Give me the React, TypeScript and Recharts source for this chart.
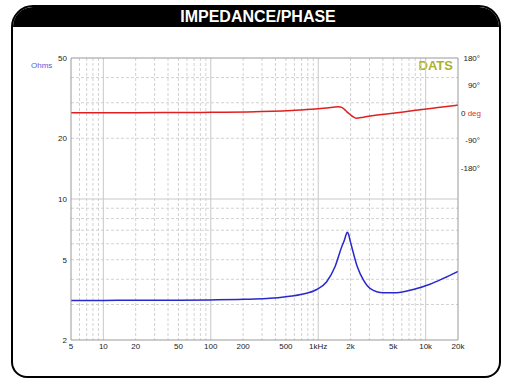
import React from 'react';
import { LineChart, Line, XAxis, YAxis, CartesianGrid, ReferenceLine } from 'recharts';

// impedance curve (Hz, ohms)
const impFreqs = [5, 10, 20, 50, 100, 200, 356, 500, 726, 968, 1199, 1433, 1655, 1760, 1815, 1866, 1920, 1976, 2050, 2312, 2630, 3034, 4035, 5370, 7670, 10960, 14590, 20000];
const impOhms = [3.14, 3.14, 3.15, 3.15, 3.16, 3.18, 3.22, 3.28, 3.38, 3.56, 3.89, 4.61, 5.8, 6.3, 6.65, 6.84, 6.66, 6.25, 5.8, 4.61, 3.97, 3.61, 3.43, 3.43, 3.56, 3.78, 4.04, 4.38];

// phase curve (Hz, degrees)
const phaseFreqs = [5, 20, 80, 300, 680, 1000, 1370, 1540, 1655, 1750, 1860, 1980, 2120, 2250, 2630, 3300, 4335, 6200, 8855, 13000, 20000];
const phaseDeg = [0.5, 1, 2, 4.5, 9.5, 13.5, 18.5, 20.5, 18.5, 12, 3, -5, -13, -17, -14, -8, -3.3, 3.5, 10.8, 18, 26];

const freqTicks = [5, 10, 20, 50, 100, 200, 500, 1000, 2000, 5000, 10000, 20000];
const ohmTicks = [2, 5, 10, 20, 50];
const phaseTicks = [-180, -90, 0, 90, 180];

const freqMinor = [6, 7, 8, 9, 20, 30, 40, 50, 60, 70, 80, 90, 200, 300, 400, 500, 600, 700, 800, 900, 2000, 3000, 4000, 5000, 6000, 7000, 8000, 9000];
const freqMajor = [10, 100, 1000, 10000];
const ohmMinor = [3, 4, 5, 6, 7, 8, 9, 20, 30, 40];
const ohmMajor = [10];

const impData = impFreqs.map((f, i) => ({ f, z: impOhms[i] }));
const phaseData = phaseFreqs.map((f, i) => ({ f, p: phaseDeg[i] }));

const FONT = '"Liberation Sans", Arial, sans-serif';

const fmtFreq = (v: number) => {
  if (v === 1000) return '1kHz';
  if (v >= 1000) return v / 1000 + 'k';
  return String(v);
};

const PhaseTick = (props: any) => {
  const { x, y, payload } = props;
  const v = payload.value;
  if (v === 0) {
    return (
      <text x={x} y={y} dy="0.355em" fontSize={8} fontFamily={FONT} textAnchor="start">
        <tspan fill="#222">0 </tspan>
        <tspan fill="#e03030">deg</tspan>
      </text>
    );
  }
  return (
    <text x={x + 19} y={y} dy="0.355em" fontSize={8} fontFamily={FONT} fill="#222" textAnchor="end">
      {v + '°'}
    </text>
  );
};

export default function App() {
  return (
    <div style={{ position: 'absolute', left: 0, top: 0, width: 516, height: 389, background: '#fff', fontFamily: FONT }}>
      <div
        style={{
          position: 'absolute', left: 11, top: 5, width: 490, height: 373,
          border: '2.5px solid #000', borderRadius: '22px 22px 16px 16px',
          boxSizing: 'border-box', overflow: 'hidden',
        }}
      >
        <div style={{ height: 20, background: '#000' }} />
      </div>
      <div
        style={{
          position: 'absolute', left: 0, top: 7, width: 516, height: 20, lineHeight: '20px',
          textAlign: 'center', color: '#fff', fontWeight: 'bold', fontSize: 16,
        }}
      >
        IMPEDANCE/PHASE
      </div>
      <div style={{ position: 'absolute', left: 31, top: 61, fontSize: 8, color: '#5a5ad8' }}>Ohms</div>
      <div
        style={{
          position: 'absolute', left: 380, width: 73, top: 59, lineHeight: '13px',
          textAlign: 'right', fontSize: 13, fontWeight: 'bold', color: '#b0b02a',
        }}
      >
        DATS
      </div>
      <div style={{ position: 'absolute', left: 0, top: 0 }}>
        <LineChart width={516} height={389} margin={{ top: 58, right: 18, left: 31, bottom: 29 }}>
          <CartesianGrid
            stroke="#d2d2d2"
            strokeDasharray="3 2"
            horizontalValues={ohmMinor}
            verticalValues={freqMinor}
          />
          <CartesianGrid stroke="#c8c8c8" horizontalValues={ohmMajor} verticalValues={freqMajor} />
          <XAxis
            dataKey="f"
            type="number"
            scale="log"
            domain={[5, 20000]}
            ticks={freqTicks}
            tickFormatter={fmtFreq}
            allowDataOverflow
            height={20}
            tickLine={false}
            tickSize={2}
            tickMargin={1}
            axisLine={{ stroke: '#999' }}
            tick={{ fontSize: 8, fill: '#222', fontFamily: FONT }}
            interval={0}
          />
          <YAxis
            yAxisId={0}
            type="number"
            scale="log"
            domain={[2, 50]}
            ticks={ohmTicks}
            allowDataOverflow
            width={40}
            tickLine={false}
            tickSize={2}
            tickMargin={2}
            axisLine={{ stroke: '#999' }}
            tick={{ fontSize: 8, fill: '#222', fontFamily: FONT }}
            interval={0}
          />
          <YAxis
            yAxisId="p"
            orientation="right"
            type="number"
            domain={[-743, 180]}
            ticks={phaseTicks}
            allowDataOverflow
            width={40}
            tickLine={false}
            tickSize={1}
            tickMargin={2}
            axisLine={{ stroke: '#999' }}
            tick={<PhaseTick />}
            interval={0}
          />
          <ReferenceLine y={50} yAxisId={0} stroke="#999" />
          <Line
            data={phaseData}
            yAxisId="p"
            dataKey="p"
            type="monotone"
            stroke="#e02020"
            strokeWidth={1.5}
            dot={false}
            isAnimationActive={false}
          />
          <Line
            data={impData}
            yAxisId={0}
            dataKey="z"
            type="monotone"
            stroke="#2828cc"
            strokeWidth={1.5}
            dot={false}
            isAnimationActive={false}
          />
        </LineChart>
      </div>
    </div>
  );
}
